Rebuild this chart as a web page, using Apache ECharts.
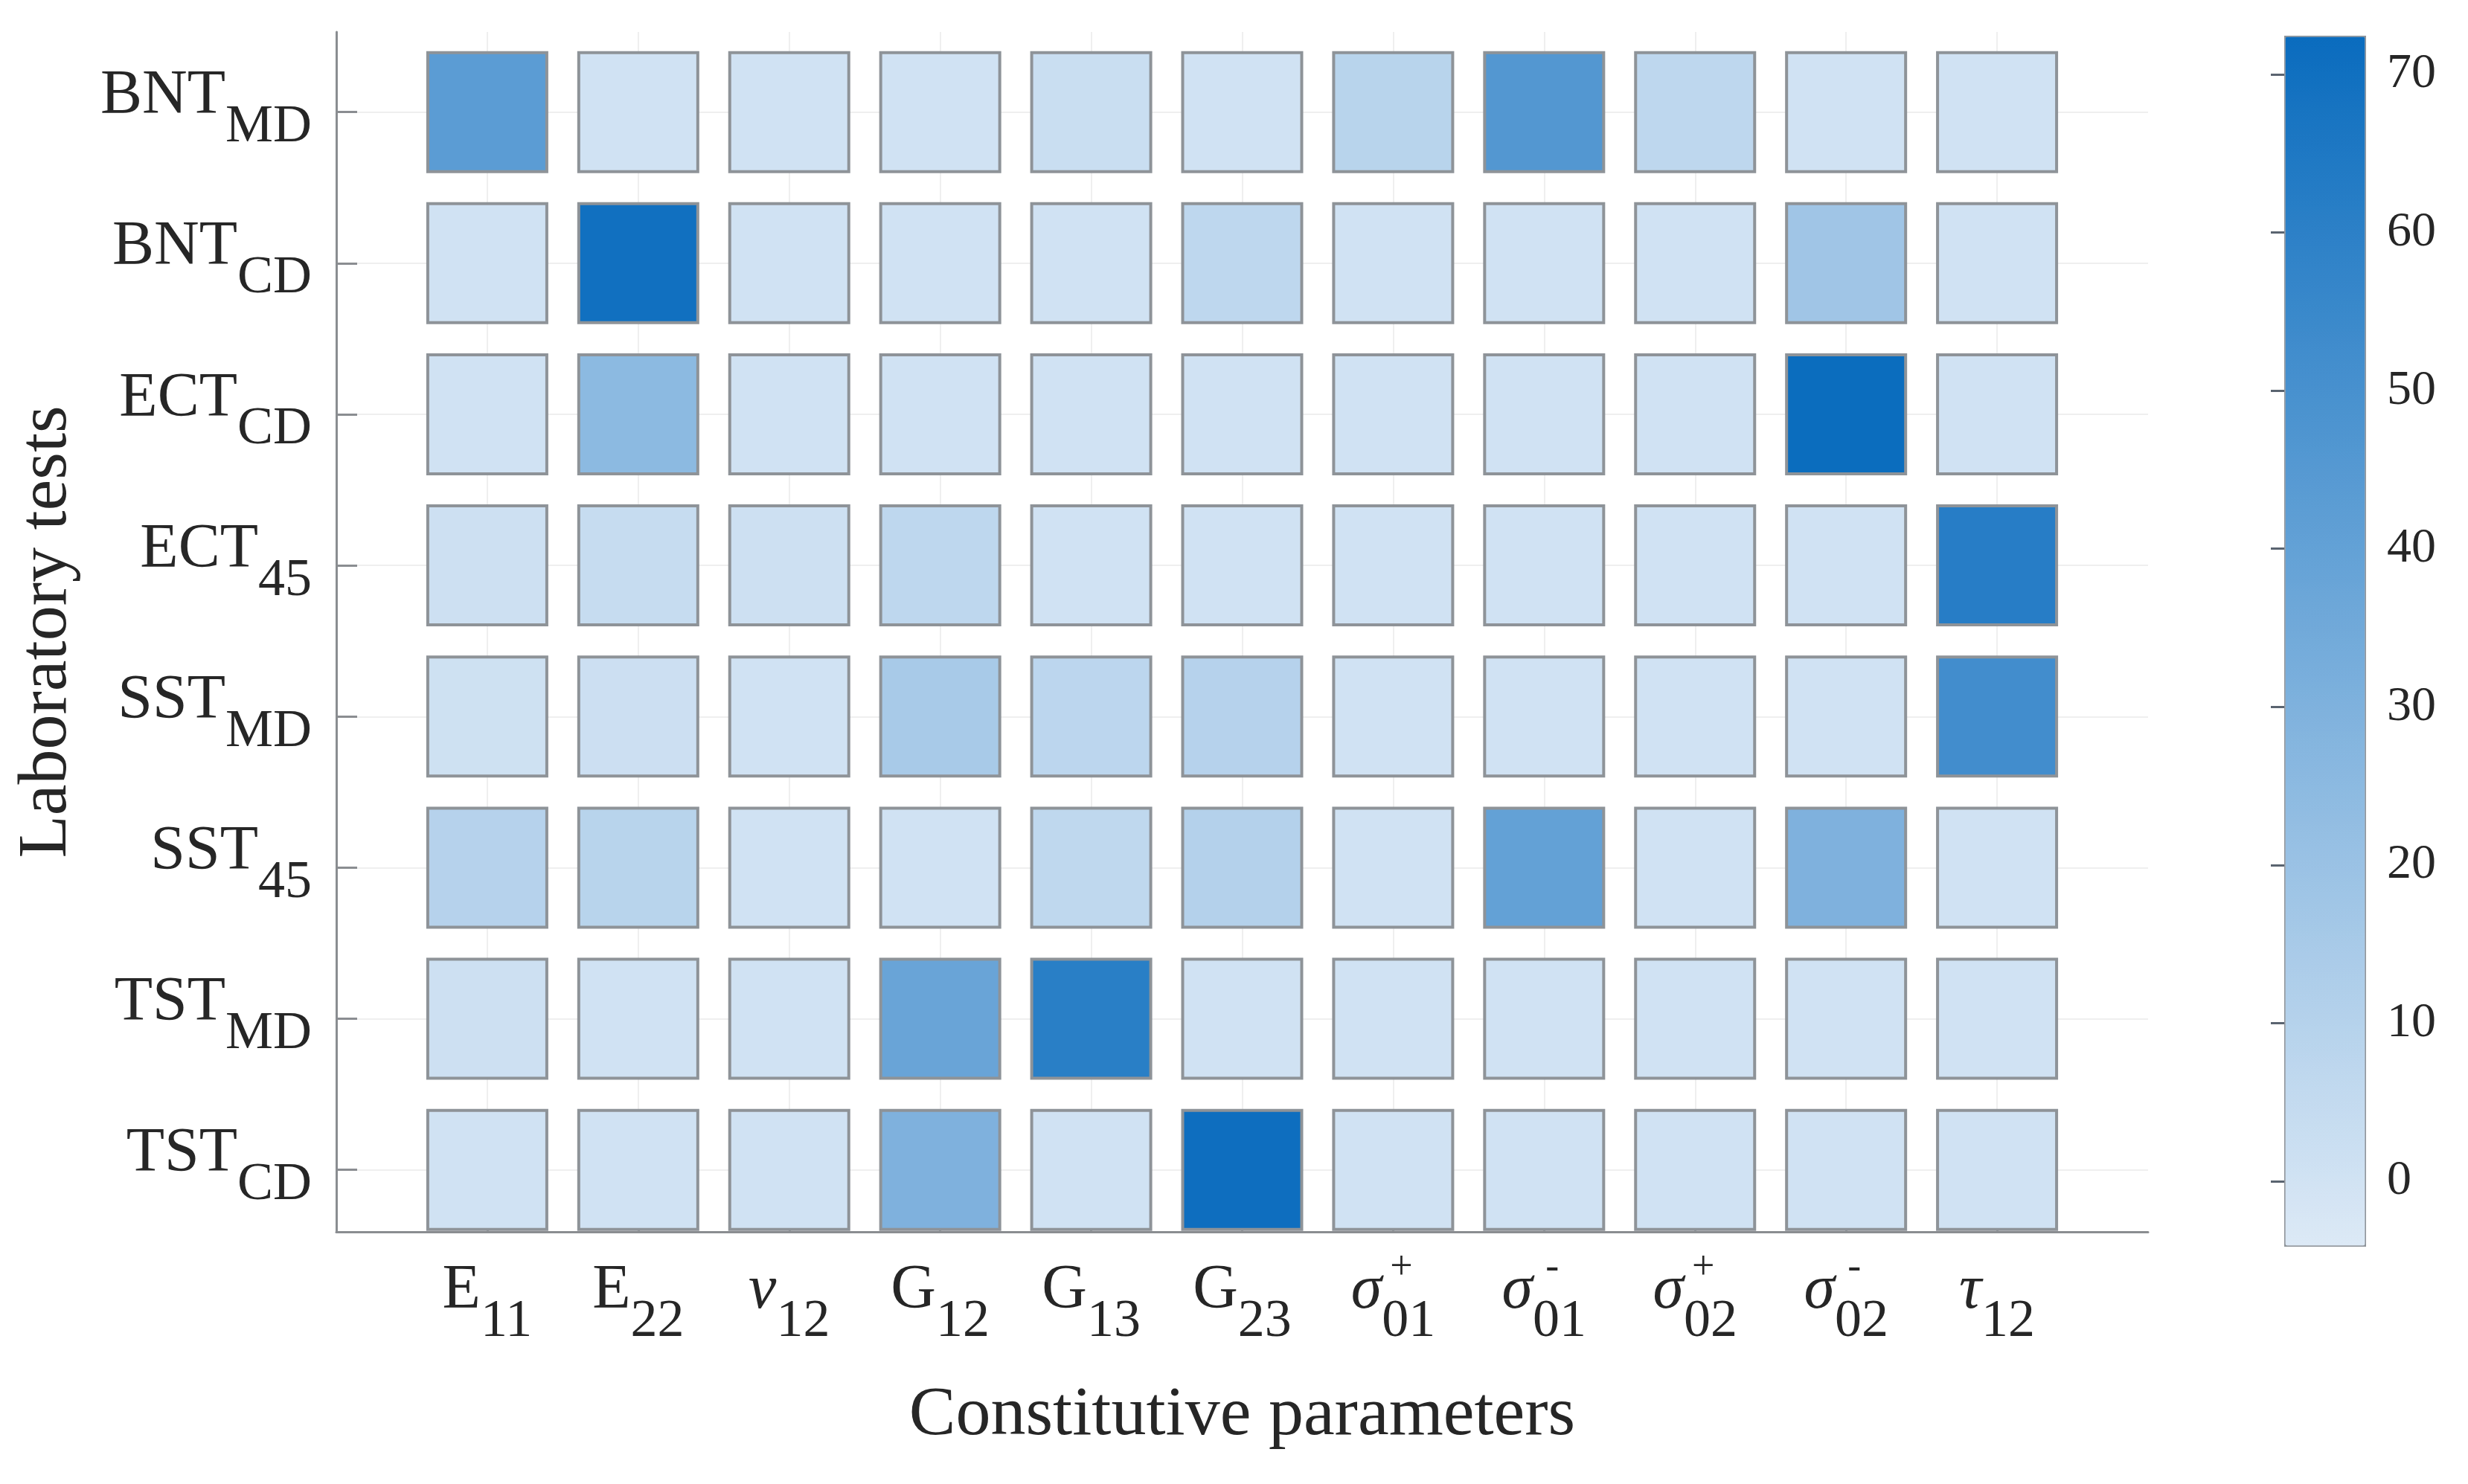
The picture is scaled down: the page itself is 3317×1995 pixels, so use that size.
<!DOCTYPE html>
<html>
<head>
<meta charset="utf-8">
<title>Sensitivity map</title>
<script src="https://cdn.jsdelivr.net/npm/echarts@6.0.0/dist/echarts.min.js"></script>
<style>
  html, body { margin: 0; padding: 0; background: #fff; }
  #main { width: 3317px; height: 1995px; }
</style>
</head>
<body>
<div id="main"></div>
<script>
// row labels (laboratory tests), top to bottom
var testNames = ['BNT', 'BNT', 'ECT', 'ECT', 'SST', 'SST', 'TST', 'TST'];
var testSubs  = ['MD', 'CD', 'CD', '45', 'MD', '45', 'MD', 'CD'];

// column labels (constitutive parameters)
var paramSyms = ['E', 'E', 'ν', 'G', 'G', 'G', 'σ', 'σ', 'σ', 'σ', 'τ'];
var paramSubs = ['11', '22', '12', '12', '13', '23', '01', '01', '02', '02', '12'];
var paramSups = ['', '', '', '', '', '', '+', '-', '+', '-', ''];
var greek = ['ν', 'σ', 'τ'];

// cell values, one array per test
var bntMD = [43, 0.5, 0.5, 0.5, 3, 0.5, 9, 46, 7, 0.5, 0.5];
var bntCD = [0.5, 70, 0.5, 0.5, 0.5, 7, 0.5, 0.5, 0.5, 18, 0.5];
var ectCD = [0.5, 25, 0.5, 0.5, 0.5, 0.5, 0.5, 0.5, 0.5, 72, 0.5];
var ect45 = [1.5, 4, 1.5, 7, 0.5, 0.5, 0.5, 0.5, 0.5, 0.5, 62];
var sstMD = [1, 2, 0.5, 15, 7.5, 10, 0.5, 0.5, 0.5, 0.5, 52];
var sst45 = [10, 9, 0.5, 0.5, 6.5, 10.5, 0.5, 40, 0.5, 30, 0.5];
var tstMD = [1.5, 0.5, 0.5, 38, 61, 0.5, 0.5, 0.5, 0.5, 0.5, 0.5];
var tstCD = [0.5, 0.5, 0.5, 30, 0.5, 71, 0.5, 0.5, 0.5, 0.5, 0.5];
var rows = [bntMD, bntCD, ectCD, ect45, sstMD, sst45, tstMD, tstCD];

// colour bar
var cbMin = -4;
var cbMax = 72.45;
var cbTicks = [0, 10, 20, 30, 40, 50, 60, 70];

var FONT = 'Liberation Serif';
var TXT = '#262626';
var AXIS = '#8a8d91';

var colPos = paramSyms.map(function (s, i) { return i + 1; });
var rowPos = testNames.map(function (s, i) { return i + 1; });

var cells = [];
rows.forEach(function (r, ri) {
  r.forEach(function (v, ci) {
    cells.push([ci + 1, ri + 1, v]);
  });
});

var rich = {
  m: { fontSize: 84, fontFamily: FONT, color: TXT, padding: [0, 0, 41, 0] },
  g: { fontSize: 84, fontFamily: FONT, fontStyle: 'italic', color: TXT, padding: [0, 0, 41, 0] },
  s: { fontSize: 72, fontFamily: FONT, color: TXT, padding: [41, 0, 0, 0] }
};

var option = {
  backgroundColor: '#fff',
  animation: false,
  grid: [
    { left: 452, right: 430, top: 43, bottom: 339 },
    { left: 3070, top: 48, width: 107, height: 1625 }
  ],
  xAxis: [
    {
      type: 'value', gridIndex: 0, min: 0, max: 12,
      name: 'Constitutive parameters', nameLocation: 'middle', nameGap: 200,
      nameTextStyle: { fontSize: 94, fontFamily: FONT, color: TXT },
      axisLine: { lineStyle: { color: AXIS, width: 3 } },
      axisTick: { inside: true, length: 28, customValues: colPos, lineStyle: { color: AXIS, width: 3 } },
      splitLine: { show: true, lineStyle: { color: '#efefef', width: 2 } },
      axisLabel: {
        customValues: colPos, margin: 38, rich: rich,
        formatter: function (v) {
          var i = Math.round(v) - 1;
          var k = greek.indexOf(paramSyms[i]) >= 0 ? 'g' : 'm';
          return '{' + k + '|' + paramSyms[i] + '}{s|' + paramSubs[i] + '}';
        }
      }
    },
    {
      // superscripts of the strength parameters
      type: 'value', gridIndex: 0, min: 0, max: 12, position: 'bottom',
      axisLine: { show: false }, axisTick: { show: false }, splitLine: { show: false },
      axisLabel: {
        customValues: [7, 8, 9, 10], margin: 22,
        fontSize: 54, fontFamily: FONT, color: TXT, padding: [0, 0, 0, 22],
        formatter: function (v) { return paramSups[Math.round(v) - 1]; }
      }
    },
    { type: 'value', gridIndex: 1, show: false, min: 0, max: 1 }
  ],
  yAxis: [
    {
      type: 'value', gridIndex: 0, inverse: true, min: 0.47, max: 8.41,
      name: 'Laboratory tests', nameLocation: 'middle', nameGap: 342,
      nameTextStyle: { fontSize: 94, fontFamily: FONT, color: TXT },
      axisLine: { show: true, lineStyle: { color: AXIS, width: 3 } },
      axisTick: { show: true, inside: true, length: 28, customValues: rowPos, lineStyle: { color: AXIS, width: 3 } },
      splitLine: { show: true, lineStyle: { color: '#efefef', width: 2 } },
      axisLabel: {
        customValues: rowPos, margin: 33, rich: rich,
        formatter: function (v) {
          var i = Math.round(v) - 1;
          return '{m|' + testNames[i] + '}{s|' + testSubs[i] + '}';
        }
      }
    },
    {
      type: 'value', gridIndex: 1, position: 'right', min: cbMin, max: cbMax,
      axisLine: { show: false },
      axisTick: { show: true, inside: true, length: 18, customValues: cbTicks, lineStyle: { color: '#5a6470', width: 3 } },
      splitLine: { show: false },
      axisLabel: { customValues: cbTicks, margin: 31, fontSize: 66, fontFamily: FONT, color: TXT }
    }
  ],
  visualMap: {
    type: 'continuous', seriesIndex: 0, dimension: 2,
    min: cbMin, max: cbMax, calculable: false, showLabel: false,
    left: 3070, top: 48, itemWidth: 107, itemHeight: 1625, padding: 0,
    borderColor: '#8f959b', borderWidth: 3,
    inRange: { color: ['#dce9f6', '#0a6cbe'] }
  },
  series: [
    {
      type: 'scatter', xAxisIndex: 0, yAxisIndex: 0,
      symbol: 'rect', symbolSize: 160,
      itemStyle: { borderColor: '#8e9398', borderWidth: 4, opacity: 1 },
      emphasis: { disabled: true },
      data: cells
    }
  ]
};

echarts.init(document.getElementById('main')).setOption(option);
</script>
</body>
</html>
